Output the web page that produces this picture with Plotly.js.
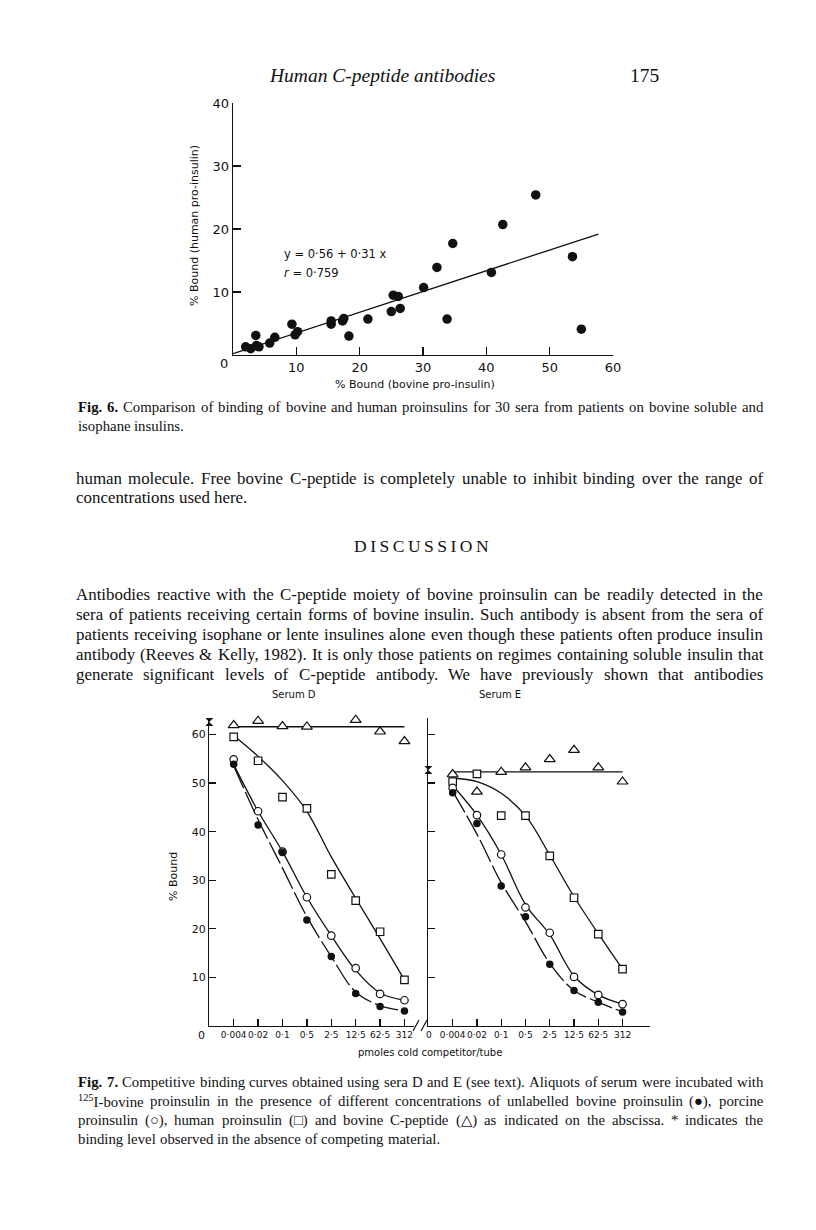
<!DOCTYPE html>
<html>
<head>
<meta charset="utf-8">
<script src="https://cdn.plot.ly/plotly-3.0.1.min.js"></script>
<style>
body { margin: 0; background: #fff; }
#page { width: 816px; height: 1230px; }
</style>
</head>
<body>
<div id="page"></div>
<script>
// ---- Fig. 6: % bound, bovine vs human pro-insulin (one point per serum)
var bovineBound = [2.0, 2.8, 3.6, 3.7, 4.1, 5.8, 6.6, 9.3, 9.8, 10.2, 15.5, 15.5, 17.3, 17.5, 18.3,
                   21.3, 25.0, 25.3, 26.1, 26.4, 30.1, 32.2, 33.8, 34.7, 40.8, 42.6, 47.8, 53.6, 55.0];
var humanBound = [1.3, 1.0, 3.1, 1.5, 1.3, 1.9, 2.8, 4.9, 3.2, 3.7, 5.4, 4.9, 5.4, 5.8, 3.0,
                  5.7, 6.9, 9.5, 9.3, 7.4, 10.7, 13.9, 5.7, 17.7, 13.1, 20.7, 25.4, 15.6, 4.1];
// regression line as drawn
var fitX = [0, 57.7];
var fitY = [0.2, 19.2];

// ---- Fig. 7: competitor doses (pmoles/tube)
var doses = [0.004, 0.02, 0.1, 0.5, 2.5, 12.5, 62.5, 312];
var doseLabels = ["0·004", "0·02", "0·1", "0·5", "2·5", "12·5", "62·5", "312"];
var zeroDose = 0.0008; // where "0" (no competitor) sits on the log axis

// Serum D
var bovineD  = [53.9, 41.4, 35.7, 21.8, 14.3, 6.7, 4.0, 3.1];
var porcineD = [54.9, 44.2, 35.9, 26.5, 18.6, 11.9, 6.6, 5.3];
var humanD   = [59.5, 54.6, 47.1, 44.8, 31.2, 25.8, 19.4, 9.5];
var cpepD    = [61.9, 62.8, 61.7, 61.6, 63.8, 63.0, 60.6, 58.6];
var bovineCurveD  = [53.5, 42.5, 32.5, 22.5, 14.3, 7.0, 4.2, 3.1];
var porcineCurveD = [53.8, 44.2, 35.9, 26.5, 18.6, 11.5, 6.8, 5.3];
var humanCurveD   = [59.8, 55.5, 50.5, 44.2, 34.8, 26.3, 18.0, 9.5];
var cpepLevelD = 61.6;
var noCompD = 62.6;

// Serum E
var bovineE  = [48.0, 41.7, 28.8, 22.5, 12.7, 7.3, 4.9, 2.9];
var porcineE = [49.0, 43.4, 35.3, 24.4, 19.2, 10.1, 6.4, 4.5];
var humanE   = [50.3, 51.9, 43.3, 43.3, 35.0, 26.4, 18.9, 11.7];
var cpepE    = [51.8, 48.2, 52.3, 53.2, 54.9, 56.8, 53.2, 50.3];
var bovineCurveE  = [48.3, 39.5, 29.5, 21.5, 12.9, 7.3, 4.9, 2.9];
var porcineCurveE = [49.5, 43.4, 35.3, 25.0, 18.8, 10.3, 6.4, 4.5];
var humanCurveE   = [51.0, 50.3, 47.9, 43.3, 35.2, 26.6, 19.0, 11.7];
var cpepLevelE = 52.3;
var noCompE = 52.7;

// ---- page text
var header = "Human C-peptide antibodies";
var pageNo = "175";
var caption6 = [
  "Fig. 6. Comparison of binding of bovine and human proinsulins for 30 sera from patients on bovine soluble and",
  "isophane insulins."
];
var para1 = [
  "human molecule. Free bovine C-peptide is completely unable to inhibit binding over the range of",
  "concentrations used here."
];
var heading = "DISCUSSION";
var para2 = [
  "Antibodies reactive with the C-peptide moiety of bovine proinsulin can be readily detected in the",
  "sera of patients receiving certain forms of bovine insulin. Such antibody is absent from the sera of",
  "patients receiving isophane or lente insulines alone even though these patients often produce insulin",
  "antibody (Reeves &amp; Kelly, 1982). It is only those patients on regimes containing soluble insulin that",
  "generate significant levels of C-peptide antibody. We have previously shown that antibodies"
];
var caption7 = [
  "Fig. 7. Competitive binding curves obtained using sera D and E (see text). Aliquots of serum were incubated with",
  "<sup>125</sup>I-bovine proinsulin in the presence of different concentrations of unlabelled bovine proinsulin (●), porcine",
  "proinsulin (○), human proinsulin (□) and bovine C-peptide (△) as indicated on the abscissa. * indicates the",
  "binding level observed in the absence of competing material."
];

var W = 816, H = 1230;
function px(x) { return x / W; }
function py(y) { return 1 - y / H; }

var serif = '"Liberation Serif", "DejaVu Serif", serif';
var sans = '"DejaVu Sans", sans-serif';
var ink = '#111';

var ctx = document.createElement('canvas').getContext('2d');
function measure(s, size, bold) {
  ctx.font = (bold ? 'bold ' : '') + size + 'px "Liberation Serif"';
  var plain = s.replace(/<sup>(.*?)<\/sup>/g, '').replace(/&amp;/g, '&');
  var w = ctx.measureText(plain).width;
  var sup = s.match(/<sup>(.*?)<\/sup>/);
  if (sup) w += ctx.measureText(sup[1]).width * 0.7;
  return w;
}
// largest size at which the given lines fit the measure with normal spacing
function fitSize(lines, width) {
  var s = 40;
  lines.forEach(function (l) { s = Math.min(s, 20 * width / measure(l, 20)); });
  return Math.floor(s * 0.985 * 10) / 10;
}

var annotations = [];
function note(text, x, y, size, opts) {
  opts = opts || {};
  annotations.push({
    text: text, xref: 'paper', yref: 'paper', x: px(x), y: py(y),
    xanchor: opts.anchor || 'left', yanchor: 'middle', showarrow: false,
    textangle: opts.angle || 0, borderpad: 0,
    font: {family: opts.family || serif, size: size, color: ink}
  });
}

// justified line of serif text between left and right
function justify(line, y, size, left, right, last) {
  var words = line.split(' ');
  var bold = words.map(function (w, i) { return line.indexOf('Fig.') === 0 && i < 2; });
  var widths = words.map(function (w, i) { return measure(w, size, bold[i]); });
  var gap = measure(' ', size) * 1.05;
  if (!last) {
    var total = widths.reduce(function (a, b) { return a + b; }, 0);
    gap = (right - left - total) / (words.length - 1);
  }
  var x = left;
  words.forEach(function (w, i) {
    note(bold[i] ? '<b>' + w + '</b>' : w, x, y, size);
    x += widths[i] + gap;
  });
}

var L = 75, R = 762;
var bodySize = Math.min(fitSize(para1.slice(0, 1), R - L), fitSize(para2.slice(0, 4), R - L));
var capSize = Math.min(fitSize([caption6[0]], R - L - 2), fitSize([caption7[0]], R - L - 2));

note('<i>' + header + '</i>', 382, 75, 19.5, {anchor: 'center'});
note(pageNo, 644, 75, 19.5, {anchor: 'center'});
caption6.forEach(function (l, i) { justify(l, 407 + i * 19, capSize, L + 2, R, i === caption6.length - 1); });
para1.forEach(function (l, i) { justify(l, 478 + i * 19.5, bodySize, L, R, i === para1.length - 1); });
note(heading.split('').join('\u2009'), 421, 546, 17.5, {anchor: 'center'});
para2.forEach(function (l, i) { justify(l, 594 + i * 20, bodySize, L, R, false); });
caption7.forEach(function (l, i) { justify(l, 1082 + i * 19, capSize, L + 2, R, i === caption7.length - 1); });

// figure lettering
note('y = 0·56 + 0·31 x', 283, 254, 11.5, {family: sans});
note('<i>r</i> = 0·759', 283, 273, 11.5, {family: sans});
note('% Bound (human pro-insulin)', 195, 226, 11, {family: sans, anchor: 'center', angle: -90});
note('% Bound (bovine pro-insulin)', 415, 384, 11, {family: sans, anchor: 'center'});
note('0', 224, 364, 13, {family: sans, anchor: 'center'});
note('Serum D', 294, 694, 10, {family: sans, anchor: 'center'});
note('Serum E', 500, 694, 10, {family: sans, anchor: 'center'});
note('% Bound', 173, 877, 11, {family: sans, anchor: 'center', angle: -90});
note('pmoles cold competitor/tube', 430, 1052, 10, {family: sans, anchor: 'center'});
note('0', 201, 1035, 11, {family: sans, anchor: 'center'});
note('0', 429, 1035, 9, {family: sans, anchor: 'center'});

// ---- traces
var traces = [];
traces.push({x: fitX, y: fitY, xaxis: 'x', yaxis: 'y', mode: 'lines',
  line: {color: ink, width: 1.3}, hoverinfo: 'skip'});
traces.push({x: bovineBound, y: humanBound, xaxis: 'x', yaxis: 'y', mode: 'markers',
  marker: {color: ink, size: 9.5}, cliponaxis: false});

function panel(xa, ya, bov, por, hum, cpep, bovC, porC, humC, level, noComp) {
  var base = {xaxis: xa, yaxis: ya, hoverinfo: 'skip', cliponaxis: false};
  function add(o) { traces.push(Object.assign({}, base, o)); }
  add({x: [doses[0], doses[doses.length - 1]], y: [level, level], mode: 'lines', line: {color: ink, width: 1.3}});
  add({x: doses, y: humC, mode: 'lines', line: {color: ink, width: 1.3, shape: 'spline', smoothing: 1}});
  add({x: doses, y: porC, mode: 'lines', line: {color: ink, width: 1.3, shape: 'spline', smoothing: 1}});
  add({x: doses, y: bovC, mode: 'lines', line: {color: ink, width: 1.3, shape: 'spline', smoothing: 1, dash: '24px,4px'}});
  add({x: doses, y: cpep, mode: 'markers',
    marker: {symbol: 'triangle-up', size: 9.5, color: '#fff', line: {color: ink, width: 1.2}}});
  add({x: doses, y: hum, mode: 'markers',
    marker: {symbol: 'square', size: 7.5, color: '#fff', line: {color: ink, width: 1.2}}});
  add({x: doses, y: por, mode: 'markers',
    marker: {symbol: 'circle', size: 7.5, color: '#fff', line: {color: ink, width: 1.2}}});
  add({x: doses, y: bov, mode: 'markers',
    marker: {symbol: 'circle', size: 7.5, color: ink}});
  add({x: [zeroDose], y: [noComp], mode: 'markers',
    marker: {symbol: 'hourglass', size: 8, color: ink}});
}
panel('x2', 'y2', bovineD, porcineD, humanD, cpepD, bovineCurveD, porcineCurveD, humanCurveD, cpepLevelD, noCompD);
panel('x3', 'y3', bovineE, porcineE, humanE, cpepE, bovineCurveE, porcineCurveE, humanCurveE, cpepLevelE, noCompE);

// ---- axes
function axis(o) {
  return Object.assign({
    showline: true, linecolor: ink, linewidth: 1.3, ticks: 'inside', ticklen: 7,
    tickwidth: 1.3, tickcolor: ink, showgrid: false, zeroline: false, fixedrange: true,
    tickangle: 0, tickfont: {family: sans, size: 11, color: ink}
  }, o);
}
var p0 = Math.log10(doses[0]), step = Math.log10(5);

var layout = {
  width: W, height: H, margin: {l: 0, r: 0, t: 0, b: 0, pad: 0},
  paper_bgcolor: '#fff', plot_bgcolor: 'rgba(0,0,0,0)', showlegend: false,
  xaxis: axis({domain: [px(233), px(613)], range: [0, 60], anchor: 'y',
    tickvals: [10, 20, 30, 40, 50, 60], ticklen: 8, tickfont: {family: sans, size: 13, color: ink}}),
  yaxis: axis({domain: [py(355), py(103)], range: [0, 40], anchor: 'x',
    tickvals: [10, 20, 30, 40], ticklen: 8, tickfont: {family: sans, size: 13, color: ink}}),
  xaxis2: axis({type: 'log', domain: [px(209.3), px(414)], range: [p0 - step, p0 + 7.39 * step], anchor: 'y2',
    tickvals: doses, ticktext: doseLabels, tickfont: {family: sans, size: 9, color: ink}}),
  yaxis2: axis({domain: [py(1026), py(718)], range: [0, 63.4], anchor: 'x2',
    tickvals: [10, 20, 30, 40, 50, 60]}),
  xaxis3: axis({type: 'log', domain: [px(428.4), px(650)], range: [p0 - step, p0 + 8.13 * step], anchor: 'y3',
    tickvals: doses, ticktext: doseLabels, tickfont: {family: sans, size: 9, color: ink}}),
  yaxis3: axis({domain: [py(1026), py(718)], range: [0, 63.4], anchor: 'x3',
    tickvals: [10, 20, 30, 40, 50, 60], showticklabels: false}),
  shapes: [
    {type: 'line', xref: 'paper', yref: 'paper', x0: px(413), y0: py(1031), x1: px(419), y1: py(1020), line: {color: ink, width: 1.2}},
    {type: 'line', xref: 'paper', yref: 'paper', x0: px(421), y0: py(1031), x1: px(427), y1: py(1020), line: {color: ink, width: 1.2}}
  ],
  annotations: annotations
};

Plotly.newPlot('page', traces, layout, {displayModeBar: false, staticPlot: true});
</script>
</body>
</html>
